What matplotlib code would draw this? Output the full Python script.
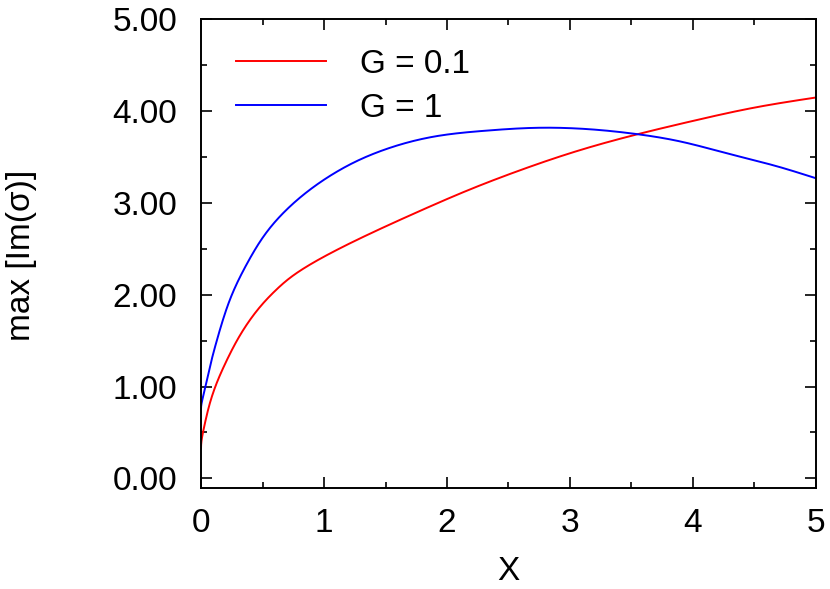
import numpy as np
import matplotlib.pyplot as plt
from matplotlib.ticker import MultipleLocator, FormatStrFormatter

plt.rcParams['font.family'] = ['Liberation Sans', 'DejaVu Sans']

# values
x_g01 = [0.0, 0.03, 0.07, 0.125, 0.2, 0.3, 0.4, 0.5, 0.6, 0.7, 0.85, 1.02, 1.38,
         1.79, 2.19, 2.60, 3.09, 3.55, 4.0, 4.5, 5.0]
y_g01 = [0.33, 0.59, 0.81, 1.03, 1.26, 1.52, 1.73, 1.90, 2.04, 2.16, 2.30, 2.43, 2.67,
         2.92, 3.15, 3.36, 3.58, 3.75, 3.895, 4.04, 4.15]

x_g1 = [0.0, 0.043, 0.084, 0.128, 0.23, 0.37, 0.50, 0.69, 0.90, 1.09, 1.24, 1.51,
        1.92, 2.33, 2.74, 3.09, 3.55, 3.90, 4.31, 4.71, 5.0]
y_g1 = [0.76, 1.04, 1.28, 1.50, 1.93, 2.33, 2.62, 2.92, 3.16, 3.33, 3.44, 3.59,
        3.73, 3.79, 3.82, 3.81, 3.75, 3.67, 3.53, 3.39, 3.27]


def splajn(xs, ys, n=600):
    # natural cubic spline in sqrt(x), only used to draw a smooth line through the points
    t = np.sqrt(np.asarray(xs, float))
    ys = np.asarray(ys, float)
    k = len(t)
    h = np.diff(t)
    A = np.zeros((k, k))
    B = np.zeros(k)
    A[0, 0] = A[-1, -1] = 1
    for i in range(1, k - 1):
        A[i, i - 1] = h[i - 1]
        A[i, i] = 2 * (h[i - 1] + h[i])
        A[i, i + 1] = h[i]
        B[i] = 6 * ((ys[i + 1] - ys[i]) / h[i] - (ys[i] - ys[i - 1]) / h[i - 1])
    M = np.linalg.solve(A, B)
    tt = np.linspace(t[0], t[-1], n)
    idx = np.clip(np.searchsorted(t, tt) - 1, 0, k - 2)
    hi = h[idx]
    a = ys[idx]
    b = (ys[idx + 1] - ys[idx]) / hi - hi * (2 * M[idx] + M[idx + 1]) / 6
    c = M[idx] / 2
    d = (M[idx + 1] - M[idx]) / (6 * hi)
    dt = tt - t[idx]
    return tt**2, a + b * dt + c * dt**2 + d * dt**3


fig = plt.figure(figsize=(8.3, 5.89), dpi=100)
ax = fig.add_axes([0.2422, 0.1723, 0.7409, 0.7946])

xa, ya = splajn(x_g01, y_g01)
xb, yb = splajn(x_g1, y_g1)
ax.plot(xa, ya, color='#ff0000', linewidth=1.4, label='G = 0.1')
ax.plot(xb, yb, color='#0000ff', linewidth=1.4, label='G = 1')

ax.set_xlim(0, 5)
ax.set_ylim(-0.1, 5)
ax.xaxis.set_major_locator(MultipleLocator(1))
ax.xaxis.set_minor_locator(MultipleLocator(0.5))
ax.yaxis.set_major_locator(MultipleLocator(1))
ax.yaxis.set_minor_locator(MultipleLocator(0.5))
ax.yaxis.set_major_formatter(FormatStrFormatter('%.2f'))
ax.tick_params(which='both', direction='in', top=True, right=True, width=1.2)
ax.tick_params(which='major', length=8, labelsize=24)
ax.tick_params(axis='x', which='major', pad=15)
ax.tick_params(axis='y', which='major', pad=17)
ax.tick_params(which='minor', length=4)
for s in ax.spines.values():
    s.set_linewidth(1.4)

ax.set_xlabel('X', fontsize=24)
ax.set_ylabel('max [Im(σ)]', fontsize=24)
ax.xaxis.set_label_coords(0.499, -0.146)
ax.yaxis.set_label_coords(-0.266, 0.497)

ax.legend(loc='upper left', frameon=False, fontsize=24, handlelength=2.7,
          handletextpad=1.0, labelspacing=0.4, borderaxespad=0.25,
          bbox_to_anchor=(0.022, 0.984))

fig.savefig('out.png', dpi=100)
